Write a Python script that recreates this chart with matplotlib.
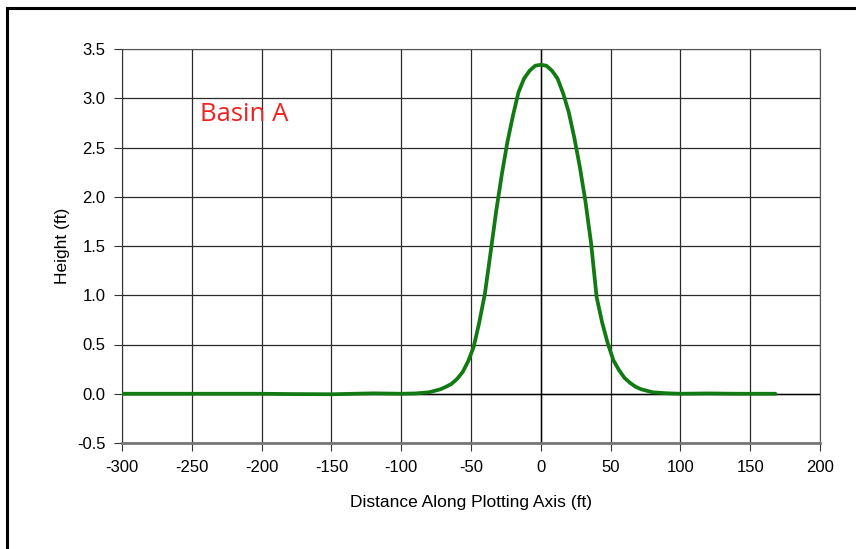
import matplotlib
matplotlib.use("Agg")
import matplotlib.pyplot as plt
from matplotlib.lines import Line2D

# profile (ft)
dist = [-300, -250, -200, -180, -150, -120, -100, -90, -80, -76, -72, -68, -64, -60,
        -56, -52, -48, -44, -40, -36, -32, -28, -24, -20, -16, -12, -8, -4, 0,
        4, 8, 12, 16, 20, 24, 28, 32, 36, 40, 44, 48, 52, 56, 60, 64, 68, 72,
        76, 80, 90, 100, 120, 140, 168]
height = [0.0, 0.0, 0.0, -0.003, -0.005, 0.004, 0.0, 0.003, 0.015, 0.03, 0.045, 0.07, 0.10, 0.15,
          0.22, 0.33, 0.48, 0.73, 1.02, 1.43, 1.85, 2.22, 2.55, 2.82, 3.06, 3.2, 3.28, 3.33, 3.34,
          3.33, 3.28, 3.2, 3.05, 2.86, 2.6, 2.3, 1.95, 1.53, 0.98, 0.72, 0.51, 0.34, 0.24, 0.16, 0.11, 0.07, 0.045,
          0.03, 0.015, 0.005, 0.0, 0.003, 0.0, 0.0]

xticks = [-300, -250, -200, -150, -100, -50, 0, 50, 100, 150, 200]
yticks = [-0.5, 0.0, 0.5, 1.0, 1.5, 2.0, 2.5, 3.0, 3.5]

plt.rcParams['font.family'] = ['Liberation Sans', 'DejaVu Sans']

fig = plt.figure(figsize=(8.56, 5.49), dpi=100)
ax = fig.add_axes([122/856, 1-443/549, 698/856, 394/549])

ax.plot(dist, height, color='#127a12', lw=2.7, solid_capstyle='round', zorder=3)

ax.set_xlim(-300, 200)
ax.set_ylim(-0.5, 3.5)
ax.set_xticks(xticks)
ax.set_yticks(yticks)
ax.set_xticklabels([str(v) for v in xticks])
ax.set_yticklabels(['%.1f' % v for v in yticks])
ax.tick_params(labelsize=12, length=6, width=0.8, color='#333333', pad=6)
ax.grid(True, color='#2a2a2a', lw=0.9)
ax.axhline(0, color='black', lw=1, zorder=2)
ax.axvline(0, color='black', lw=1, zorder=2)
for s in ['top', 'right']:
    ax.spines[s].set_color('#555555')
    ax.spines[s].set_linewidth(0.8)
ax.spines['bottom'].set_color('#777777')
ax.spines['bottom'].set_linewidth(2)
ax.spines['left'].set_color('#333333')

ax.set_xlabel('Distance Along Plotting Axis (ft)', fontsize=12.5, labelpad=15)
ax.set_ylabel('Height (ft)', fontsize=12.5, labelpad=5)

ax.text(-244, 2.84, 'Basin A', color='#ee2222', fontsize=18.5,
        family=['Open Sans', 'DejaVu Sans'], va='center', ha='left')

# outer frame (left and top edges)
fig.add_artist(Line2D([7/856, 7/856], [0, 1-8/549], color='black', lw=2.2))
fig.add_artist(Line2D([7/856, 1], [1-8/549, 1-8/549], color='black', lw=2.2))

fig.savefig('out.png', dpi=100)
